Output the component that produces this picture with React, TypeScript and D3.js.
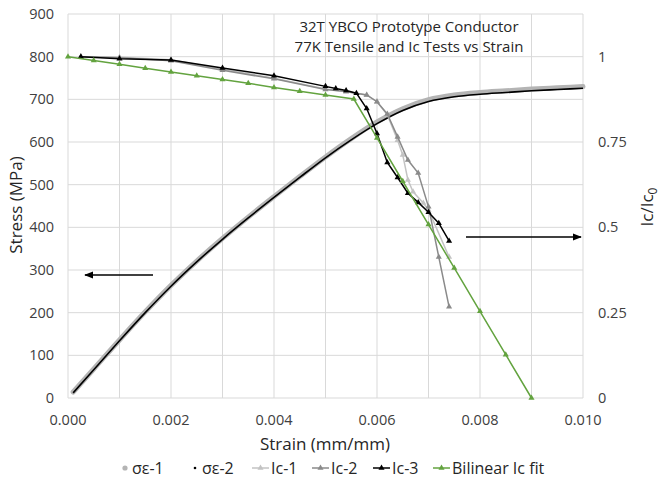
import React from "react";
import * as d3 from "d3";

// ---- data ----
const strainTicks = [0, 0.002, 0.004, 0.006, 0.008, 0.01];
const stressTicks = [0, 100, 200, 300, 400, 500, 600, 700, 800, 900];
const icTicks = [0, 0.25, 0.5, 0.75, 1];

// stress-strain (MPa)
const sigmaEps1: [number, number][] = [
  [0.0001, 14], [0.0005, 68], [0.001, 136], [0.0015, 202], [0.002, 264], [0.0025, 321],
  [0.003, 374], [0.0035, 424], [0.004, 472], [0.0045, 519], [0.005, 565], [0.0055, 608],
  [0.006, 647], [0.0065, 678], [0.007, 699], [0.0075, 710], [0.008, 716], [0.0085, 720],
  [0.009, 724], [0.0095, 727], [0.01, 730],
];
const sigmaEps2: [number, number][] = [
  [0.0001, 12], [0.0005, 66], [0.001, 134], [0.0015, 200], [0.002, 262], [0.0025, 319],
  [0.003, 372], [0.0035, 422], [0.004, 470], [0.0045, 517], [0.005, 563], [0.0055, 605],
  [0.006, 643], [0.0065, 674], [0.007, 695], [0.0075, 706], [0.008, 712], [0.0085, 716],
  [0.009, 720], [0.0095, 723], [0.01, 726],
];

// Ic / Ic0
const ic1: [number, number][] = [
  [0.00025, 1.0], [0.001, 0.998], [0.002, 0.991], [0.003, 0.963], [0.004, 0.937],
  [0.005, 0.905], [0.0054, 0.897], [0.0058, 0.888], [0.006, 0.868], [0.0062, 0.83],
  [0.0064, 0.755], [0.0065, 0.712], [0.0066, 0.639], [0.0067, 0.604], [0.0069, 0.571],
  [0.007, 0.551], [0.0074, 0.413],
];
const ic2: [number, number][] = [
  [0.00025, 1.0], [0.001, 0.997], [0.002, 0.988], [0.003, 0.96], [0.004, 0.935],
  [0.005, 0.904], [0.0054, 0.898], [0.0058, 0.888], [0.006, 0.868], [0.0062, 0.832],
  [0.0064, 0.765], [0.0066, 0.697], [0.0068, 0.659], [0.007, 0.56], [0.0072, 0.413],
  [0.0074, 0.267],
];
const ic3: [number, number][] = [
  [0.00025, 1.0], [0.001, 0.994], [0.002, 0.99], [0.003, 0.967], [0.004, 0.944],
  [0.005, 0.913], [0.0052, 0.907], [0.0054, 0.901], [0.0056, 0.893], [0.0058, 0.848],
  [0.006, 0.775], [0.0062, 0.69], [0.0064, 0.646], [0.0066, 0.6], [0.0068, 0.573],
  [0.007, 0.544], [0.0072, 0.512], [0.0074, 0.46],
];
const bilinear: [number, number][] = [
  [0, 1.0], [0.0005, 0.989], [0.001, 0.978], [0.0015, 0.966], [0.002, 0.955],
  [0.0025, 0.944], [0.003, 0.933], [0.0035, 0.922], [0.004, 0.91], [0.0045, 0.899],
  [0.005, 0.888], [0.00555, 0.876], [0.006, 0.762], [0.0065, 0.635], [0.007, 0.508],
  [0.0075, 0.381], [0.008, 0.254], [0.0085, 0.127], [0.009, 0],
];

const titleLines = ["32T YBCO Prototype Conductor", "77K Tensile and Ic Tests vs Strain"];

const W = 662, H = 479;
const FONT = "'Open Sans', sans-serif";

export default function App() {
  const x = d3.scaleLinear().domain([0, 0.01]).range([68, 583]);
  const yL = d3.scaleLinear().domain([0, 900]).range([398, 14]);
  const yR = d3.scaleLinear().domain([0, 1.125]).range([398, 14]);

  const lineL = d3.line<[number, number]>().x(d => x(d[0])).y(d => yL(d[1])).curve(d3.curveMonotoneX);
  const lineR = d3.line<[number, number]>().x(d => x(d[0])).y(d => yR(d[1]));
  const tri = d3.symbol().type(d3.symbolTriangle).size(16)() as string;

  const icSeries = [
    { name: "Ic-1", data: ic1, color: "#c3c3c3" },
    { name: "Ic-2", data: ic2, color: "#8a8a8a" },
    { name: "Ic-3", data: ic3, color: "#000000" },
    { name: "Bilinear Ic fit", data: bilinear, color: "#63a33f" },
  ];

  const gridX = d3.range(0, 11).map(i => i * 0.001);

  const legendItems = [
    { name: "σε-1", kind: "dot1", x: 125 },
    { name: "σε-2", kind: "dot2", x: 195 },
    { name: "Ic-1", kind: "line", color: "#c3c3c3", x: 252 },
    { name: "Ic-2", kind: "line", color: "#8a8a8a", x: 312 },
    { name: "Ic-3", kind: "line", color: "#000000", x: 373 },
    { name: "Bilinear Ic fit", kind: "line", color: "#63a33f", x: 433 },
  ];

  return (
    <svg width={W} height={H} style={{ position: "absolute", left: 0, top: 0, background: "#fff" }} fontFamily={FONT}>
      <defs>
        <marker id="ah" viewBox="0 0 10 10" refX="9" refY="5" markerWidth="6" markerHeight="6" orient="auto-start-reverse">
          <path d="M0,1 L10,5 L0,9 z" fill="#000" />
        </marker>
      </defs>
      {/* grid */}
      {stressTicks.map(t => (
        <line key={"gy" + t} x1={68} x2={583} y1={yL(t)} y2={yL(t)} stroke="#d9d9d9" strokeWidth={1} />
      ))}
      {gridX.map(t => (
        <line key={"gx" + t} x1={x(t)} x2={x(t)} y1={14} y2={398} stroke="#d9d9d9" strokeWidth={1} />
      ))}

      {/* stress curves */}
      <path d={lineL(sigmaEps1) as string} fill="none" stroke="#b4b4b4" strokeWidth={5} strokeLinecap="round" />
      <path d={lineL(sigmaEps2) as string} fill="none" stroke="#000" strokeWidth={1.6} />

      {/* Ic curves */}
      {icSeries.map(s => (
        <g key={s.name}>
          <path d={lineR(s.data) as string} fill="none" stroke={s.color} strokeWidth={1.5} />
          {s.data.map((d, i) => (
            <path key={i} d={tri} transform={`translate(${x(d[0])},${yR(d[1])})`} fill={s.color} />
          ))}
        </g>
      ))}

      {/* arrows */}
      <line x1={153} y1={275} x2={85} y2={275} stroke="#000" strokeWidth={1.5} markerEnd="url(#ah)" />
      <line x1={466} y1={237} x2={581} y2={237} stroke="#000" strokeWidth={1.5} markerEnd="url(#ah)" />

      {/* title */}
      {titleLines.map((t, i) => (
        <text key={t} x={409} y={32 + i * 20} textAnchor="middle" fontSize={15} fill="#262626">{t}</text>
      ))}

      {/* left ticks */}
      {stressTicks.map(t => (
        <text key={"yl" + t} x={54} y={yL(t)} dy="0.35em" textAnchor="end" fontSize={14.5} fill="#404040">{t}</text>
      ))}
      {/* right ticks */}
      {icTicks.map(t => (
        <text key={"yr" + t} x={598} y={yR(t)} dy="0.35em" textAnchor="start" fontSize={14.5} fill="#404040">{t}</text>
      ))}
      {/* x ticks */}
      {strainTicks.map(t => (
        <text key={"xt" + t} x={x(t)} y={425} textAnchor="middle" fontSize={14.5} fill="#404040">{t.toFixed(3)}</text>
      ))}

      {/* axis titles */}
      <text x={325} y={450} textAnchor="middle" fontSize={17} fill="#262626">Strain (mm/mm)</text>
      <text transform="translate(22,205) rotate(-90)" textAnchor="middle" fontSize={17} fill="#262626">Stress (MPa)</text>
      <text transform="translate(653,207) rotate(-90)" textAnchor="middle" fontSize={17} fill="#262626">
        Ic/Ic<tspan fontSize={12} dy="4">0</tspan>
      </text>

      {/* legend */}
      {legendItems.map(it => (
        <g key={it.name}>
          {it.kind === "dot1" && <circle cx={it.x} cy={468} r={2.6} fill="#b4b4b4" />}
          {it.kind === "dot2" && <circle cx={it.x} cy={468} r={1.3} fill="#000" />}
          {it.kind === "line" && (
            <g>
              <line x1={it.x} x2={it.x + 17} y1={468} y2={468} stroke={it.color} strokeWidth={1.5} />
              <path d={tri} transform={`translate(${it.x + 8.5},468)`} fill={it.color} />
            </g>
          )}
          <text x={it.kind === "line" ? it.x + 19 : it.x + 7} y={474} fontSize={16} fill="#262626">{it.name}</text>
        </g>
      ))}
    </svg>
  );
}
